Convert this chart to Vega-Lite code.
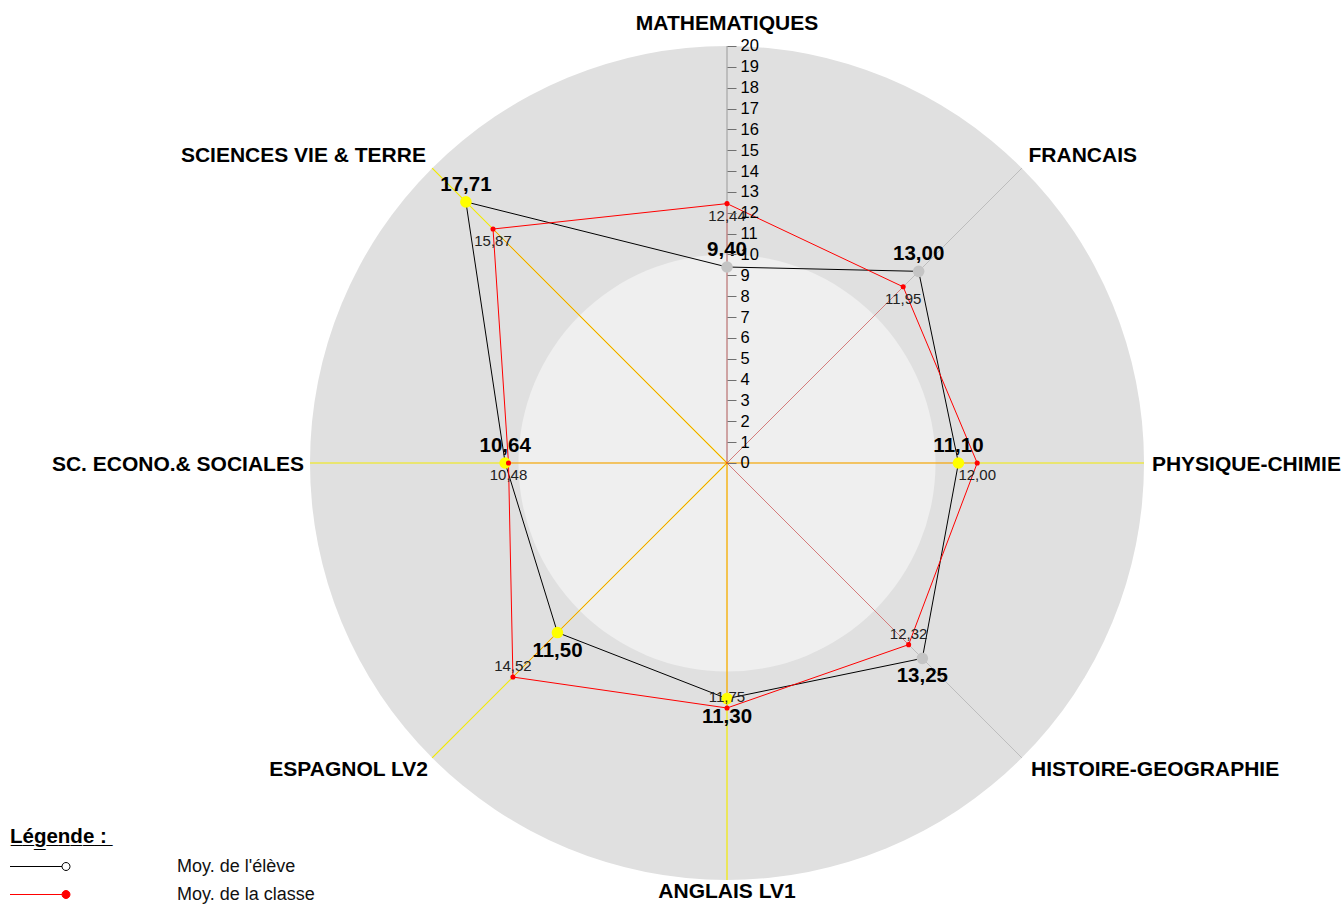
{
"$schema":"https://vega.github.io/schema/vega-lite/v6.json",
"width":1344,"height":905,"padding":0,"autosize":{"type":"none"},
"background":"#ffffff",
"config":{"view":{"stroke":null},"font":"Liberation Sans","locale":{"number":{"decimal":",","thousands":" ","grouping":[3],"currency":["","€"]}}},
"resolve":{"axis":{"x":"independent","y":"independent"}},
"data":{"values":[
{"matiere":"MATHEMATIQUES","rang":0,"eleve":9.40,"classe":12.44,"type":"A"},
{"matiere":"FRANCAIS","rang":1,"eleve":13.00,"classe":11.95,"type":"A"},
{"matiere":"PHYSIQUE-CHIMIE","rang":2,"eleve":11.10,"classe":12.00,"type":"B"},
{"matiere":"HISTOIRE-GEOGRAPHIE","rang":3,"eleve":13.25,"classe":12.32,"type":"A"},
{"matiere":"ANGLAIS LV1","rang":4,"eleve":11.30,"classe":11.75,"type":"B"},
{"matiere":"ESPAGNOL LV2","rang":5,"eleve":11.50,"classe":14.52,"type":"B"},
{"matiere":"SC. ECONO.& SOCIALES","rang":6,"eleve":10.64,"classe":10.48,"type":"B"},
{"matiere":"SCIENCES VIE & TERRE","rang":7,"eleve":17.71,"classe":15.87,"type":"B"}
]},
"transform":[
{"calculate":"0","as":"o"},
{"calculate":"datum.rang*PI/4","as":"angle"},
{"calculate":"20*sin(datum.angle)","as":"ax"},
{"calculate":"20*cos(datum.angle)","as":"ay"},
{"calculate":"datum.classe*sin(datum.angle)","as":"cx"},
{"calculate":"datum.classe*cos(datum.angle)","as":"cy"},
{"calculate":"datum.eleve*sin(datum.angle)","as":"ex"},
{"calculate":"datum.eleve*cos(datum.angle)","as":"ey"},
{"calculate":"[21.06,20.45,20.38,20.62,20.58,20.28,20.29,20.42][datum.rang]","as":"lr"},
{"calculate":"datum.lr*sin(datum.angle)","as":"lx"},
{"calculate":"datum.lr*cos(datum.angle)+[0,0.28,-0.1,-0.15,0,-0.38,-0.1,0.29][datum.rang]","as":"ly"}
],
"layer":[
{"transform":[{"filter":"datum.rang == 0"}],
 "mark":{"type":"point","shape":"circle","filled":true,"fill":"#e0e0e0","opacity":1,"strokeWidth":0,"size":695556},
 "encoding":{
  "x":{"field":"o","type":"quantitative","scale":{"domain":[-34.868,29.592],"nice":false,"zero":false},"axis":null},
  "y":{"field":"o","type":"quantitative","scale":{"domain":[-21.199,22.206],"nice":false,"zero":false},"axis":null}}},
{"transform":[{"filter":"datum.rang == 0"}],
 "mark":{"type":"point","shape":"circle","filled":true,"fill":"#efefef","opacity":1,"strokeWidth":0,"size":173889},
 "encoding":{
  "x":{"field":"o","type":"quantitative","scale":{"domain":[-34.868,29.592],"nice":false,"zero":false},"axis":null},
  "y":{"field":"o","type":"quantitative","scale":{"domain":[-21.199,22.206],"nice":false,"zero":false},"axis":null}}},
{"transform":[{"filter":"datum.rang == 0"}],
 "mark":{"type":"rule","stroke":"#9a9a9a","strokeWidth":1},
 "encoding":{
  "x":{"field":"o","type":"quantitative","scale":{"domain":[-34.868,29.592],"nice":false,"zero":false},"axis":null},
  "y":{"field":"o","type":"quantitative","scale":{"domain":[-21.199,22.206],"nice":false,"zero":false},
       "axis":{"orient":"right","offset":-617,"values":[0,1,2,3,4,5,6,7,8,9,10,11,12,13,14,15,16,17,18,19,20],"domain":false,"grid":false,"ticks":true,"tickSize":9,"tickColor":"#707070","tickWidth":1,"labelPadding":4,"labelFontSize":16.5,"labelFont":"Liberation Sans","labelColor":"#000000","labelOverlap":false,"labelFlush":false,"title":null,"zindex":1}},
  "x2":{"field":"ax"},"y2":{"field":"ay"}}},
{"transform":[{"filter":"datum.type == 'A' && datum.rang != 0"}],
 "mark":{"type":"rule","stroke":"#bdbdbd","strokeWidth":1},
 "encoding":{
  "x":{"field":"o","type":"quantitative","scale":{"domain":[-34.868,29.592],"nice":false,"zero":false},"axis":null},
  "y":{"field":"o","type":"quantitative","scale":{"domain":[-21.199,22.206],"nice":false,"zero":false},"axis":null},
  "x2":{"field":"ax"},"y2":{"field":"ay"}}},
{"transform":[{"filter":"datum.type == 'B'"}],
 "mark":{"type":"rule","stroke":"#f2ea00","strokeWidth":1.2},
 "encoding":{
  "x":{"field":"o","type":"quantitative","scale":{"domain":[-34.868,29.592],"nice":false,"zero":false},"axis":null},
  "y":{"field":"o","type":"quantitative","scale":{"domain":[-21.199,22.206],"nice":false,"zero":false},"axis":null},
  "x2":{"field":"ax"},"y2":{"field":"ay"}}},
{"mark":{"type":"rule","stroke":"#ff0000","strokeWidth":1,"opacity":0.35},
 "encoding":{
  "x":{"field":"o","type":"quantitative","scale":{"domain":[-34.868,29.592],"nice":false,"zero":false},"axis":null},
  "y":{"field":"o","type":"quantitative","scale":{"domain":[-21.199,22.206],"nice":false,"zero":false},"axis":null},
  "x2":{"field":"cx"},"y2":{"field":"cy"}}},
{"transform":[
  {"fold":["eleve","classe"],"as":["serie","valeur"]},
  {"calculate":"datum.valeur*sin(datum.angle)","as":"px"},
  {"calculate":"datum.valeur*cos(datum.angle)","as":"py"}],
 "mark":{"type":"line","interpolate":"linear-closed","strokeWidth":1},
 "encoding":{
  "x":{"field":"px","type":"quantitative","scale":{"domain":[-34.868,29.592],"nice":false,"zero":false},"axis":null},
  "y":{"field":"py","type":"quantitative","scale":{"domain":[-21.199,22.206],"nice":false,"zero":false},"axis":null},
  "order":{"field":"rang","type":"quantitative"},
  "color":{"field":"serie","type":"nominal","scale":{"domain":["eleve","classe"],"range":["#000000","#ff0000"]},
    "legend":{"orient":"none","legendX":10,"legendY":827,"padding":0,
      "title":"L\u0332é\u0332g\u0332e\u0332n\u0332d\u0332e\u0332 \u0332:\u0332","titleFont":"Liberation Sans","titleFontSize":20.5,"titleFontWeight":"bold","titleColor":"#000000","titlePadding":10,
      "symbolType":"M-9,0L43,0M43,0A4,4,0,1,0,51,0A4,4,0,1,0,43,0Z","symbolSize":4,"symbolStrokeWidth":1,
      "labelFont":"Liberation Sans","labelFontSize":18,"labelColor":"#111111","labelOffset":149,"rowPadding":10,
      "labelExpr":"datum.value == 'eleve' ? \"Moy. de l'élève\" : 'Moy. de la classe'",
      "encode":{"symbols":{"update":{"fill":{"signal":"datum.value == 'classe' ? '#ff0000' : '#ffffff'"},"stroke":{"signal":"datum.value == 'classe' ? '#ff0000' : '#6d7c90'"}}}}}}}},
{"mark":{"type":"point","filled":true,"size":135,"opacity":1,"strokeWidth":0},
 "encoding":{
  "x":{"field":"ex","type":"quantitative","scale":{"domain":[-34.868,29.592],"nice":false,"zero":false},"axis":null},
  "y":{"field":"ey","type":"quantitative","scale":{"domain":[-21.199,22.206],"nice":false,"zero":false},"axis":null},
  "fill":{"field":"type","type":"nominal","scale":{"domain":["A","B"],"range":["#c4c4c4","#ffff00"]},"legend":null}}},
{"mark":{"type":"point","filled":true,"size":26,"opacity":1,"color":"#ff0000","strokeWidth":0},
 "encoding":{
  "x":{"field":"cx","type":"quantitative","scale":{"domain":[-34.868,29.592],"nice":false,"zero":false},"axis":null},
  "y":{"field":"cy","type":"quantitative","scale":{"domain":[-21.199,22.206],"nice":false,"zero":false},"axis":null}}},
{"transform":[{"filter":"datum.rang < 3 || datum.rang > 5"}],
 "mark":{"type":"text","font":"Liberation Sans","fontSize":20.5,"fontWeight":"bold","color":"#000000","align":"center","baseline":"middle","dy":-17},
 "encoding":{
  "x":{"field":"ex","type":"quantitative","scale":{"domain":[-34.868,29.592],"nice":false,"zero":false},"axis":null},
  "y":{"field":"ey","type":"quantitative","scale":{"domain":[-21.199,22.206],"nice":false,"zero":false},"axis":null},
  "text":{"field":"eleve","type":"quantitative","format":".2f"}}},
{"transform":[{"filter":"datum.rang >= 3 && datum.rang <= 5"}],
 "mark":{"type":"text","font":"Liberation Sans","fontSize":20.5,"fontWeight":"bold","color":"#000000","align":"center","baseline":"middle","dy":18},
 "encoding":{
  "x":{"field":"ex","type":"quantitative","scale":{"domain":[-34.868,29.592],"nice":false,"zero":false},"axis":null},
  "y":{"field":"ey","type":"quantitative","scale":{"domain":[-21.199,22.206],"nice":false,"zero":false},"axis":null},
  "text":{"field":"eleve","type":"quantitative","format":".2f"}}},
{"transform":[{"filter":"datum.rang < 3 || datum.rang > 5"}],
 "mark":{"type":"text","font":"Liberation Sans","fontSize":15,"color":"#222222","align":"center","baseline":"middle","dy":12},
 "encoding":{
  "x":{"field":"cx","type":"quantitative","scale":{"domain":[-34.868,29.592],"nice":false,"zero":false},"axis":null},
  "y":{"field":"cy","type":"quantitative","scale":{"domain":[-21.199,22.206],"nice":false,"zero":false},"axis":null},
  "text":{"field":"classe","type":"quantitative","format":".2f"}}},
{"transform":[{"filter":"datum.rang >= 3 && datum.rang <= 5"}],
 "mark":{"type":"text","font":"Liberation Sans","fontSize":15,"color":"#222222","align":"center","baseline":"middle","dy":-11},
 "encoding":{
  "x":{"field":"cx","type":"quantitative","scale":{"domain":[-34.868,29.592],"nice":false,"zero":false},"axis":null},
  "y":{"field":"cy","type":"quantitative","scale":{"domain":[-21.199,22.206],"nice":false,"zero":false},"axis":null},
  "text":{"field":"classe","type":"quantitative","format":".2f"}}},
{"transform":[{"filter":"datum.rang == 0 || datum.rang == 4"}],
 "mark":{"type":"text","font":"Liberation Sans","fontSize":21,"fontWeight":"bold","color":"#000000","align":"center","baseline":"middle"},
 "encoding":{
  "x":{"field":"lx","type":"quantitative","scale":{"domain":[-34.868,29.592],"nice":false,"zero":false},"axis":null},
  "y":{"field":"ly","type":"quantitative","scale":{"domain":[-21.199,22.206],"nice":false,"zero":false},"axis":null},
  "text":{"field":"matiere","type":"nominal"}}},
{"transform":[{"filter":"datum.rang >= 1 && datum.rang <= 3"}],
 "mark":{"type":"text","font":"Liberation Sans","fontSize":21,"fontWeight":"bold","color":"#000000","align":"left","baseline":"middle"},
 "encoding":{
  "x":{"field":"lx","type":"quantitative","scale":{"domain":[-34.868,29.592],"nice":false,"zero":false},"axis":null},
  "y":{"field":"ly","type":"quantitative","scale":{"domain":[-21.199,22.206],"nice":false,"zero":false},"axis":null},
  "text":{"field":"matiere","type":"nominal"}}},
{"transform":[{"filter":"datum.rang >= 5"}],
 "mark":{"type":"text","font":"Liberation Sans","fontSize":21,"fontWeight":"bold","color":"#000000","align":"right","baseline":"middle"},
 "encoding":{
  "x":{"field":"lx","type":"quantitative","scale":{"domain":[-34.868,29.592],"nice":false,"zero":false},"axis":null},
  "y":{"field":"ly","type":"quantitative","scale":{"domain":[-21.199,22.206],"nice":false,"zero":false},"axis":null},
  "text":{"field":"matiere","type":"nominal"}}}
]
}
